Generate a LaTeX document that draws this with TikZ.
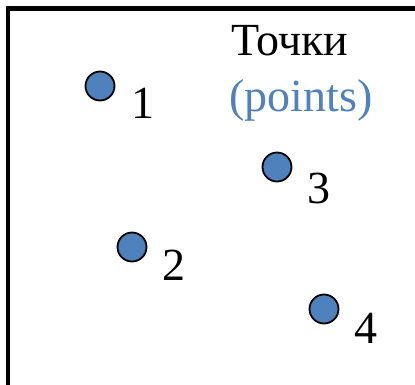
\documentclass[tikz,border=0pt]{standalone}
\usepackage{fontspec}
\setmainfont{Liberation Serif}
\definecolor{ptblue}{HTML}{4F81BD}
\begin{document}
\begin{tikzpicture}[x=1pt,y=-1pt,
  pt/.style={circle,draw=black,line width=1.8pt,fill=ptblue,minimum size=29pt,inner sep=0pt},
  lbl/.style={anchor=base,inner sep=0pt,font=\fontsize{46}{55}\selectfont},
  frameline/.style={line width=4.6pt,line join=miter}]
\useasboundingbox (0,0) rectangle (415,384);
\draw[frameline] (8,390) -- (8,8.5) -- (420,8.5);
\node[lbl] (t1) at (290,55) {Точки};
\node[lbl,text=ptblue] (t2) at (301,111) {(points)};
\node[pt] (p1) at (100,86) {};
\node[pt] (p2) at (132,247) {};
\node[pt] (p3) at (277,167) {};
\node[pt] (p4) at (324,309) {};
\node[lbl] (l1) at (143,118) {1};
\node[lbl] (l2) at (174,280) {2};
\node[lbl] (l3) at (319,203) {3};
\node[lbl] (l4) at (366,343) {4};
\end{tikzpicture}
\end{document}
